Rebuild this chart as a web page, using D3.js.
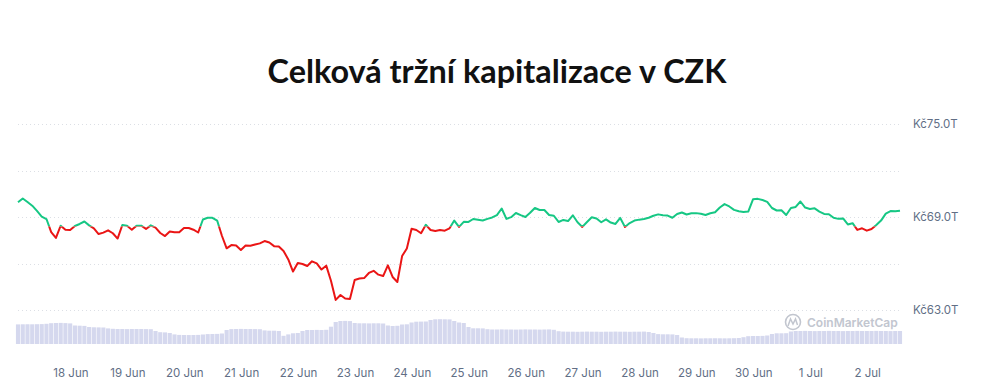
<!DOCTYPE html>
<html><head><meta charset="utf-8">
<script src="https://cdn.jsdelivr.net/npm/d3@7"></script>
<style>body{margin:0;background:#fff;} svg{display:block;}</style>
</head><body>
<svg id="chart" width="982" height="392"></svg>
<script>
const chartTitle = "Celková tržní kapitalizace v CZK";
const startTime = "2025-06-17T01:40:00";
const stepHours = 2;
const baselineValue = 68.39; // Kč T, colour switch level

// total market cap, Kč trillions, one value every 2 hours
const marketCap = [
  69.95, 70.19, 69.97, 69.73, 69.39, 69.03, 68.87, 68.03, 67.65, 68.44,
  68.18, 68.16, 68.42, 68.55, 68.71, 68.46, 68.27, 67.90, 67.99, 68.14,
  67.95, 67.61, 68.48, 68.43, 68.18, 68.44, 68.44, 68.23, 68.46, 68.31,
  67.97, 67.77, 68.06, 68.01, 68.01, 68.29, 68.29, 68.18, 68.00, 68.84,
  68.95, 68.95, 68.77, 67.79, 66.98, 67.19, 67.16, 66.87, 67.16, 67.15,
  67.23, 67.30, 67.45, 67.35, 67.12, 67.10, 66.81, 66.26, 65.48, 66.03,
  65.97, 65.84, 66.14, 66.01, 65.61, 65.86, 64.89, 63.65, 63.97, 63.74,
  63.71, 64.94, 65.03, 65.06, 65.39, 65.53, 65.28, 65.19, 65.88, 65.13,
  64.81, 66.48, 66.97, 68.24, 68.16, 67.95, 68.50, 68.16, 68.10, 68.16,
  68.12, 68.27, 68.77, 68.36, 68.69, 68.68, 68.87, 68.82, 68.77, 68.88,
  68.97, 69.12, 69.55, 68.88, 68.99, 69.26, 69.12, 69.00, 69.27, 69.58,
  69.45, 69.45, 69.13, 69.08, 68.68, 68.81, 68.74, 69.11, 68.66, 68.36,
  68.68, 68.98, 68.90, 68.66, 68.85, 68.64, 68.55, 68.94, 68.36, 68.61,
  68.77, 68.83, 68.87, 68.95, 69.08, 69.17, 69.12, 69.09, 68.95, 69.19,
  69.29, 69.16, 69.24, 69.25, 69.21, 69.13, 69.24, 69.31, 69.61, 69.83,
  69.68, 69.46, 69.37, 69.32, 69.35, 70.14, 70.17, 70.10, 69.98, 69.58,
  69.42, 69.43, 69.13, 69.58, 69.65, 70.00, 69.61, 69.52, 69.56, 69.35,
  69.20, 69.18, 68.95, 68.88, 68.91, 68.52, 68.60, 68.17, 68.27, 68.12,
  68.23, 68.48, 68.77, 69.22, 69.38, 69.37, 69.41
];

// 24h volume, Kč billions (relative), same time steps
const volume = [
  1960, 1970, 1975, 1970, 1980, 1990, 2020, 2080, 2100, 2110,
  2090, 2060, 1850, 1830, 1810, 1700, 1670, 1660, 1650, 1560,
  1520, 1500, 1500, 1490, 1500, 1500, 1500, 1490, 1480, 1300,
  1180, 1160, 1100, 960, 910, 900, 895, 900, 910, 950,
  990, 1000, 1010, 1050, 1400, 1490, 1500, 1510, 1500, 1500,
  1490, 1480, 1360, 1330, 1330, 1300, 820, 960, 1070, 1100,
  1300, 1400, 1400, 1410, 1400, 1420, 1730, 2200, 2300, 2310,
  2290, 2100, 2070, 2070, 2060, 2070, 2070, 2050, 1850, 1800,
  1820, 1950, 1970, 2150, 2230, 2240, 2250, 2400, 2470, 2480,
  2470, 2460, 2300, 2150, 2100, 1700, 1570, 1570, 1560, 1480,
  1450, 1450, 1460, 1450, 1450, 1440, 1450, 1460, 1450, 1450,
  1440, 1450, 1460, 1420, 1280, 1240, 1230, 1230, 1220, 1230,
  1240, 1230, 1230, 1220, 1230, 1230, 1240, 1230, 1230, 1220,
  1230, 1230, 1240, 1200, 1100, 990, 970, 970, 960, 900,
  650, 580, 570, 570, 560, 570, 570, 575, 570, 565,
  570, 580, 600, 680, 780, 800, 800, 810, 850, 1000,
  1070, 1070, 1080, 1250, 1300, 1300, 1310, 1300, 1290, 1300,
  1300, 1310, 1300, 1300, 1290, 1300, 1300, 1310, 1300, 1300,
  1300, 1310, 1300, 1300, 1290, 1300, 1300
];

const yGridTicks = [63, 66, 69, 72, 75];
const yLabelTicks = [63, 69, 75];
const xTickDates = ["2025-06-18","2025-06-19","2025-06-20","2025-06-21","2025-06-22",
  "2025-06-23","2025-06-24","2025-06-25","2025-06-26","2025-06-27","2025-06-28",
  "2025-06-29","2025-06-30","2025-07-01","2025-07-02"];

const t0 = new Date(startTime);
const times = marketCap.map((_, i) => new Date(t0.getTime() + i * stepHours * 3600e3));
const data = times.map((t, i) => ({t, v: marketCap[i], vol: volume[i]}));

const svg = d3.select("#chart");
const x = d3.scaleTime().domain([times[0], times[times.length - 1]]).range([18, 900]);
const y = d3.scaleLinear().domain([63, 75]).range([310, 124]);
const yVol = d3.scaleLinear().domain([0, 2500]).range([344, 319]);

const green = "#16c784", red = "#ea1515", axisGray = "#616e85";
const font = "Inter, 'Noto Sans', sans-serif";

// title
const titleEl = svg.append("text")
  .attr("x", 497).attr("y", 70)
  .attr("text-anchor", "middle").attr("dominant-baseline", "central")
  .style("font-family", "Lato, 'Open Sans', sans-serif").style("font-weight", 700)
  .style("font-size", "32px").style("fill", "#111")
  .text(chartTitle);
const w = titleEl.node().getComputedTextLength();
titleEl.style("font-size", (32 * 459 / w).toFixed(2) + "px");

// grid
svg.append("g").selectAll("line").data(yGridTicks).join("line")
  .attr("x1", 18).attr("x2", 900)
  .attr("y1", d => Math.round(y(d)) + 0.5).attr("y2", d => Math.round(y(d)) + 0.5)
  .attr("stroke", "#dcdfe5").attr("stroke-width", 1).attr("stroke-dasharray", "1,3");

// y labels
svg.append("g").selectAll("text").data(yLabelTicks).join("text")
  .attr("x", 913).attr("y", d => y(d))
  .attr("dominant-baseline", "central")
  .style("font-family", font).style("font-size", "11.5px").style("fill", axisGray)
  .text(d => "Kč" + d.toFixed(1) + "T");

// volume bars
const step = x(times[1]) - x(times[0]);
svg.append("g").selectAll("rect").data(data).join("rect")
  .attr("x", d => x(d.t) - step / 2 + 0.3)
  .attr("width", step - 0.6)
  .attr("y", d => yVol(d.vol))
  .attr("height", d => yVol(0) - yVol(d.vol))
  .attr("fill", "#d5d8ee");

// watermark
const wmColor = "#c2c6cf";
const wm = svg.append("g").attr("fill", "none").attr("stroke", wmColor);
wm.append("circle").attr("cx", 793).attr("cy", 322).attr("r", 7.5).attr("stroke-width", 1.6);
wm.append("path").attr("d", "M788,326 L790.5,319 L793,324 L795.5,319 L797.5,325").attr("stroke-width", 1.5);
svg.append("text").attr("x", 807).attr("y", 322).attr("dominant-baseline", "central")
  .style("font-family", font).style("font-size", "12px").style("font-weight", 600)
  .style("fill", wmColor).text("CoinMarketCap");

// price line split at baseline
const yb = y(baselineValue);
const defs = svg.append("defs");
defs.append("clipPath").attr("id", "above").append("rect")
  .attr("x", 0).attr("y", 0).attr("width", 982).attr("height", yb);
defs.append("clipPath").attr("id", "below").append("rect")
  .attr("x", 0).attr("y", yb).attr("width", 982).attr("height", 392 - yb);
const line = d3.line().x(d => x(d.t)).y(d => y(d.v));
svg.append("path").datum(data).attr("d", line).attr("clip-path", "url(#above)")
  .attr("fill", "none").attr("stroke", green).attr("stroke-width", 2).attr("stroke-linejoin", "round");
svg.append("path").datum(data).attr("d", line).attr("clip-path", "url(#below)")
  .attr("fill", "none").attr("stroke", red).attr("stroke-width", 2).attr("stroke-linejoin", "round");

// x labels
const fmt = d3.timeFormat("%-d %b");
svg.append("g").selectAll("text").data(xTickDates.map(s => new Date(s + "T00:00:00"))).join("text")
  .attr("x", d => x(d)).attr("y", 373)
  .attr("text-anchor", "middle").attr("dominant-baseline", "central")
  .style("font-family", font).style("font-size", "11.5px").style("fill", axisGray)
  .text(d => fmt(d));
</script>
</body></html>
